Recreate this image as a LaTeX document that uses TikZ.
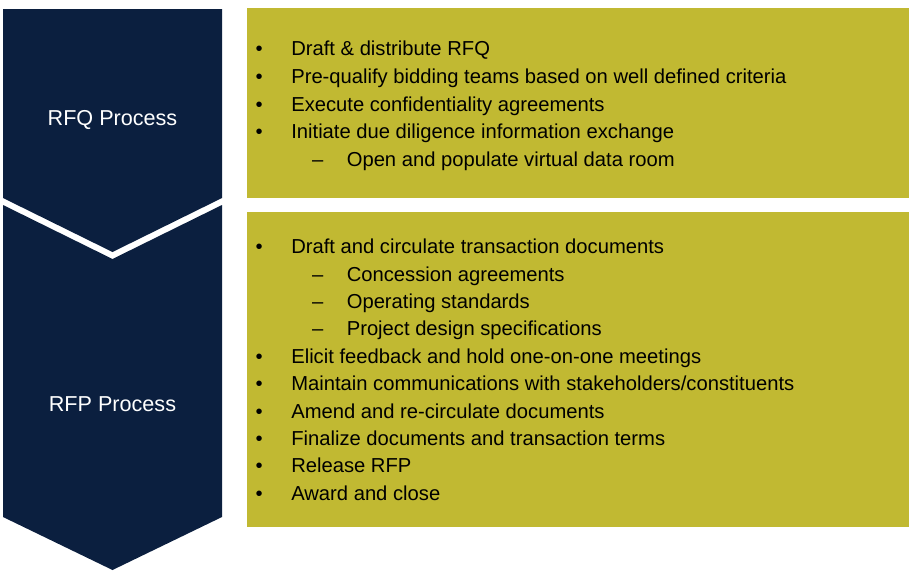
\documentclass[tikz,border=0pt]{standalone}
\usepackage{fontspec}
\setmainfont{Liberation Sans}
\definecolor{navy}{RGB}{11,31,63}
\definecolor{olive}{RGB}{193,185,50}
\newcommand{\itemfont}{\fontsize{20.2}{24}\selectfont}
\newcommand{\labfont}{\fontsize{21.6}{25}\selectfont}
\begin{document}
\begin{tikzpicture}[x=1pt,y=-1pt,
  chev/.style={fill=navy},
  panel/.style={fill=olive, anchor=north west, inner sep=0pt, outer sep=0pt, draw=none},
  txt/.style={anchor=base west, inner sep=0pt, outer sep=0pt, font=\itemfont, text=black},
  lab/.style={anchor=base, inner sep=0pt, font=\labfont, text=white}]
\useasboundingbox (0,0) rectangle (909,570);
% chevrons
\fill[chev] (3,9) -- (222,9) -- (222,198) -- (112.5,252) -- (3,198) -- cycle;
\fill[chev] (3,205) -- (112.5,259) -- (222,205) -- (222,517) -- (112.5,570) -- (3,517) -- cycle;
\node[lab] (rfq) at (112.5,125) {RFQ Process};
\node[lab] (rfp) at (112.5,411.5) {RFP Process};
% panels
\node[panel, minimum width=662.5pt, minimum height=190.5pt] (box1) at (246.5,7.5) {};
\node[panel, minimum width=662.5pt, minimum height=315pt] (box2) at (246.5,212) {};
% box 1 items
\foreach \k/\t/\lvl in {0/{Draft \& distribute RFQ}/1,
                       1/{Pre-qualify bidding teams based on well defined criteria}/1,
                       2/{Execute confidentiality agreements}/1,
                       3/{Initiate due diligence information exchange}/1,
                       4/{Open and populate virtual data room}/2}{
  \pgfmathsetmacro{\yy}{55.7+\k*27.75}
  \ifnum\lvl=1
    \node[txt] (qb\k) at (255.5,\yy) {•};
    \node[txt] (qt\k) at (291.3,\yy) {\t};
  \else
    \node[txt] (qb\k) at (312,\yy) {–};
    \node[txt] (qt\k) at (346.8,\yy) {\t};
  \fi
}
% box 2 items
\foreach \k/\t/\lvl in {0/{Draft and circulate transaction documents}/1,
                       1/{Concession agreements}/2,
                       2/{Operating standards}/2,
                       3/{Project design specifications}/2,
                       4/{Elicit feedback and hold one-on-one meetings}/1,
                       5/{Maintain communications with stakeholders/constituents}/1,
                       6/{Amend and re-circulate documents}/1,
                       7/{Finalize documents and transaction terms}/1,
                       8/{Release RFP}/1,
                       9/{Award and close}/1}{
  \pgfmathsetmacro{\yy}{253.6+\k*27.4}
  \ifnum\lvl=1
    \node[txt] (pb\k) at (255.5,\yy) {•};
    \node[txt] (pt\k) at (291.3,\yy) {\t};
  \else
    \node[txt] (pb\k) at (312,\yy) {–};
    \node[txt] (pt\k) at (346.8,\yy) {\t};
  \fi
}
\end{tikzpicture}
\end{document}
